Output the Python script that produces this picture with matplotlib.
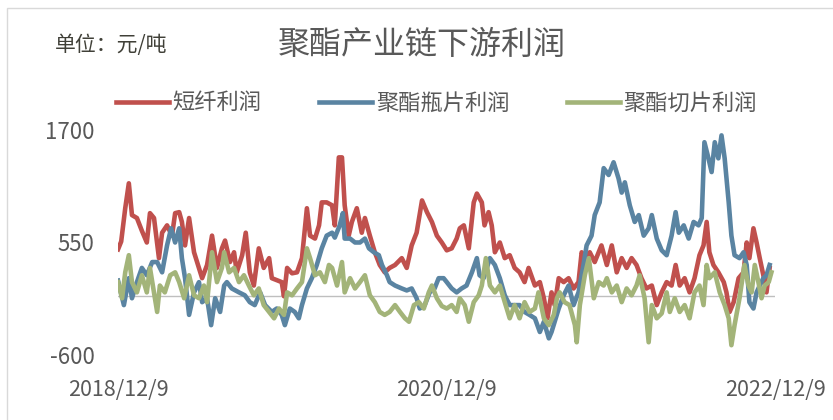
import pandas as pd
import matplotlib.pyplot as plt
from matplotlib.patches import Rectangle

plt.rcParams['font.family'] = ['Noto Sans CJK SC', 'DejaVu Sans']
plt.rcParams['axes.unicode_minus'] = False

start = pd.Timestamp("2018-12-09")

# days since 2018-12-09, value in 元/吨
red_day = [0, 7, 16, 24, 31, 42, 53, 64, 71, 80, 91, 98, 109, 120, 127, 136, 142, 149, 158, 169,
           180, 187, 198, 209, 220, 231, 238, 249, 258, 264, 276, 284, 293, 302, 313, 324, 336, 342, 353, 364,
           369, 376, 387, 398, 409, 420, 427, 438, 447, 453, 464, 476, 482, 491, 498, 504, 513, 520, 531, 542,
           549, 560, 571, 582, 593, 604, 616, 631, 642, 653, 664, 676, 687, 698, 709, 720, 731, 742, 753, 760,
           769, 780, 791, 798, 809, 815, 824, 831, 838, 849, 860, 871, 882, 893, 904, 913, 927, 938, 947, 955,
           964, 971, 980, 991, 1002, 1013, 1024, 1031, 1038, 1049, 1060, 1075, 1087, 1098, 1109, 1120, 1131, 1142, 1153, 1164,
           1175, 1187, 1198, 1209, 1220, 1231, 1240, 1249, 1260, 1271, 1282, 1293, 1302, 1309, 1315, 1324, 1335, 1347, 1353, 1360,
           1369, 1380, 1391, 1398, 1404, 1413, 1420, 1427, 1435, 1442, 1449]
red_val = [480, 560, 900, 1155, 830, 800, 670, 550, 850, 800, 390, 650, 725, 620, 850, 860, 760, 520, 800, 450,
           290, 185, 320, 620, 290, 490, 570, 350, 450, 245, 420, 650, 245, 110, 490, 290, 390, 185, 165, 145,
           0, 290, 235, 245, 390, 900, 620, 590, 725, 960, 960, 930, 725, 1420, 1420, 930, 620, 760, 900, 650,
           800, 620, 450, 320, 245, 290, 320, 390, 290, 520, 650, 980, 860, 760, 620, 550, 470, 490, 590, 695,
           725, 490, 960, 1050, 960, 725, 860, 725, 450, 550, 390, 420, 290, 245, 145, 290, 110, 145, -20, -225,
           40, -90, 185, 145, 185, 80, 145, 450, 390, 450, 350, 520, 320, 520, 245, 390, 290, 390, 320, 185,
           80, 110, -90, 40, 145, 110, 320, 110, 185, 40, 185, 420, 520, 760, 450, 320, 245, 145, 40, -160,
           -60, 185, 245, 550, 390, 695, 550, 390, 215, 40, 290]

blue_day = [0, 13, 24, 31, 42, 53, 64, 76, 87, 98, 109, 118, 127, 136, 142, 149, 158, 169, 180, 187,
            198, 207, 216, 227, 236, 242, 253, 269, 282, 293, 304, 316, 327, 342, 353, 364, 371, 382, 393, 402,
            409, 420, 431, 442, 453, 464, 476, 482, 493, 500, 504, 516, 527, 538, 549, 558, 569, 580, 587, 598,
            604, 616, 631, 642, 653, 664, 671, 682, 693, 704, 713, 724, 731, 742, 753, 764, 775, 787, 798, 804,
            813, 827, 838, 849, 860, 871, 882, 893, 904, 915, 927, 938, 947, 958, 964, 971, 980, 991, 1002, 1013,
            1024, 1035, 1042, 1053, 1060, 1071, 1080, 1091, 1102, 1113, 1120, 1127, 1138, 1149, 1158, 1169, 1180, 1187, 1198, 1209,
            1220, 1231, 1240, 1247, 1258, 1269, 1280, 1291, 1298, 1304, 1313, 1320, 1327, 1335, 1342, 1349, 1358, 1364, 1371, 1382,
            1391, 1398, 1404, 1413, 1420, 1427, 1435, 1442, 1449]
blue_val = [160, -90, 185, -20, 145, 290, 215, 350, 350, 245, 520, 695, 550, 695, 390, 185, -190, 40, 145, -60,
            -20, -295, -20, -160, 110, 145, 80, 40, 10, -60, -90, 40, -90, -160, -125, -190, -295, -125, -160, -225,
            -90, 80, 185, 320, 490, 620, 650, 600, 725, 850, 590, 590, 550, 550, 590, 490, 450, 420, 320, 215,
            145, 110, 80, 60, 80, -20, -125, -90, 40, 80, 185, 185, 145, 80, 40, 80, 110, 245, 390, 215,
            185, 390, 320, 185, 10, -90, -90, -90, -160, -190, -225, -365, -260, -430, -365, -260, -125, 10, 110, -90,
            40, 320, 520, 620, 830, 960, 1310, 1240, 1370, 1205, 1060, 1165, 930, 760, 830, 620, 695, 830, 590, 470,
            420, 620, 860, 650, 725, 590, 760, 725, 800, 1575, 1410, 1270, 1575, 1410, 1645, 1410, 960, 620, 420, 390,
            450, 320, -60, -125, 40, 110, 185, 215, 320]

green_day = [0, 9, 16, 24, 31, 42, 53, 64, 71, 80, 87, 93, 104, 116, 127, 136, 147, 158, 169, 180,
             191, 198, 209, 220, 231, 236, 247, 258, 269, 280, 291, 302, 313, 324, 336, 347, 358, 369, 376, 387,
             398, 409, 420, 427, 438, 449, 460, 469, 476, 487, 498, 504, 516, 527, 538, 549, 560, 571, 582, 593,
             604, 616, 627, 638, 647, 658, 669, 680, 691, 698, 709, 720, 731, 742, 753, 760, 771, 780, 791, 802,
             809, 818, 827, 838, 849, 860, 871, 882, 893, 904, 915, 927, 935, 947, 958, 969, 976, 982, 993, 1004,
             1016, 1020, 1027, 1038, 1047, 1058, 1069, 1080, 1087, 1098, 1109, 1120, 1131, 1142, 1153, 1160, 1171, 1180, 1187, 1198,
             1209, 1220, 1227, 1238, 1249, 1260, 1271, 1282, 1293, 1302, 1309, 1315, 1327, 1338, 1349, 1358, 1364, 1371, 1382, 1393,
             1402, 1409, 1416, 1424, 1431, 1438, 1447, 1453]
green_val = [145, -20, 245, 420, 145, 40, 215, 40, 290, 40, -160, 110, 40, 215, 245, 145, -20, 215, 10, -20,
             110, -60, 450, 145, 290, 450, 245, 290, 145, 215, 110, 10, 80, -90, -160, -225, -125, -190, 40, 10,
             80, 145, 490, 390, 215, 245, 145, 320, 290, 110, 350, 40, 185, 80, 145, 215, 10, -60, -160, -190,
             -160, -90, -160, -225, -260, -90, -60, -125, 40, 110, -20, -100, -125, -90, -160, -20, -90, -260, -60, 10,
             110, 390, 110, 40, 110, -60, -225, -90, -225, -60, -160, -125, 40, -225, -295, -190, -20, 40, -60, -90,
             -295, -470, -90, 215, 390, -20, 145, 110, 185, 40, 110, -60, 80, 10, 110, 215, -20, -470, -90, -225,
             -175, 40, -160, -20, -160, -90, -225, 40, 110, -90, 320, 185, 245, 40, -90, -225, -500, -295, -20, 320,
             110, 40, 320, 145, -20, 110, 145, 245]

tick_dates = ["2018-12-09", "2020-12-09", "2022-12-09"]
tick_labels = ["2018/12/9", "2020/12/9", "2022/12/9"]
y_ticks = [-600, 550, 1700]

series = [
    ("短纤利润", red_day, red_val, "#C0504D"),
    ("聚酯瓶片利润", blue_day, blue_val, "#5A84A2"),
    ("聚酯切片利润", green_day, green_val, "#A3B479"),
]

fig = plt.figure(figsize=(8.33, 4.2), dpi=100)
ax = fig.add_axes([0.1417, 0.1548, 0.7887, 0.5357])

for name, days, vals, color in series:
    dates = start + pd.to_timedelta(days, unit="D")
    ax.plot(dates, vals, color=color, lw=3.3, label=name, solid_joinstyle="round")

ax.axhline(0, color="#BFBFBF", lw=1, zorder=0)

ax.set_ylim(-600, 1700)
ax.set_yticks(y_ticks)
ax.set_xlim(start, pd.Timestamp("2022-12-09"))
ax.set_xticks(pd.to_datetime(tick_dates))
ax.set_xticklabels(tick_labels)
ax.tick_params(axis="y", length=0, pad=17, labelsize=16, labelcolor="#595959")
ax.tick_params(axis="x", length=0, pad=17, labelsize=15.5, labelcolor="#595959")
for s in ax.spines.values():
    s.set_visible(False)

fig.text(0.507, 0.893, "聚酯产业链下游利润", ha="center", va="center", fontsize=23, color="#595959")
fig.text(0.066, 0.893, "单位：元/吨", ha="left", va="center", fontsize=15, color="#404038")

fig.legend(loc="center", bbox_to_anchor=(0.524, 0.755), ncol=3, frameon=False,
           fontsize=16, handlelength=2.4, handletextpad=0.15, columnspacing=2.6,
           labelcolor="#595959")

fig.patches.append(Rectangle((7 / 833, -0.1), 1.2, 1.1 - 8 / 420, transform=fig.transFigure,
                             fill=False, edgecolor="#D9D9D9", lw=1))

fig.savefig("out.png", dpi=100)
